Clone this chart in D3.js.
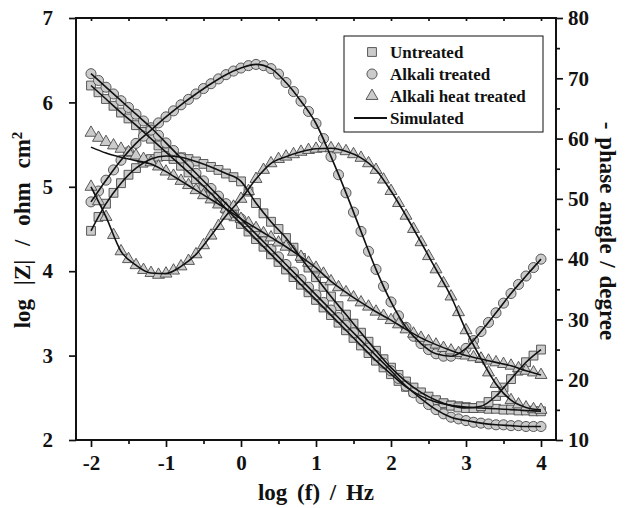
<!DOCTYPE html>
<html><head><meta charset="utf-8">
<script src="https://cdn.jsdelivr.net/npm/d3@7"></script>
<style>
body{margin:0;background:#fff}
text{font-family:"Liberation Serif","Times New Roman",serif;font-weight:bold;fill:#111}
</style>
</head><body><svg id="c" width="630" height="508"></svg>
<script>
// ---------------- data ----------------
const logF = [-2.0,-1.9,-1.8,-1.7,-1.6,-1.5,-1.4,-1.3,-1.2,-1.1,-1.0,-0.9,-0.8,-0.7,-0.6,-0.5,-0.4,-0.3,-0.2,-0.1,
  0.0,0.1,0.2,0.3,0.4,0.5,0.6,0.7,0.8,0.9,1.0,1.1,1.2,1.3,1.4,1.5,1.6,1.7,1.8,1.9,
  2.0,2.1,2.2,2.3,2.4,2.5,2.6,2.7,2.8,2.9,3.0,3.1,3.2,3.3,3.4,3.5,3.6,3.7,3.8,3.9,4.0];

// log|Z| (left axis)
const untreatedZ = [6.20,6.12,6.04,5.96,5.88,5.81,5.73,5.65,5.57,5.49,5.41,5.33,5.25,5.17,5.09,5.00,4.92,4.83,4.74,4.65,
  4.56,4.47,4.38,4.29,4.20,4.11,4.02,3.93,3.84,3.75,3.66,3.57,3.48,3.39,3.30,3.21,3.12,3.03,2.94,2.86,
  2.78,2.70,2.63,2.57,2.52,2.48,2.45,2.43,2.41,2.40,2.39,2.38,2.38,2.37,2.37,2.36,2.36,2.35,2.35,2.34,2.34];
const alkaliZ = [6.34,6.26,6.18,6.10,6.02,5.94,5.86,5.78,5.70,5.61,5.52,5.43,5.34,5.25,5.16,5.07,4.98,4.89,4.80,4.71,
  4.62,4.53,4.44,4.35,4.26,4.17,4.08,3.99,3.90,3.81,3.72,3.63,3.54,3.45,3.36,3.27,3.18,3.09,3.00,2.91,
  2.82,2.73,2.64,2.56,2.49,2.42,2.36,2.31,2.27,2.25,2.23,2.21,2.20,2.19,2.18,2.18,2.17,2.17,2.16,2.16,2.16];
const heatZ = [5.64,5.58,5.53,5.49,5.45,5.41,5.37,5.33,5.29,5.24,5.18,5.13,5.07,5.02,4.96,4.90,4.85,4.79,4.74,4.68,
  4.62,4.57,4.51,4.45,4.40,4.34,4.29,4.23,4.17,4.10,4.04,3.97,3.88,3.81,3.75,3.69,3.63,3.58,3.52,3.47,
  3.42,3.37,3.31,3.26,3.21,3.17,3.13,3.09,3.06,3.03,3.00,2.98,2.96,2.94,2.92,2.90,2.88,2.85,2.82,2.80,2.77];

// -phase angle (right axis)
const untreatedPh = [44.7,47.0,49.2,51.0,52.6,54.0,55.1,56.0,56.6,57.0,57.1,57.1,56.9,56.6,56.2,55.8,55.3,54.8,54.2,53.6,
  52.9,51.2,49.3,47.6,46.2,45.0,43.5,41.9,40.2,38.6,37.0,35.4,33.8,32.2,30.8,29.3,27.8,26.3,24.8,23.4,
  22.0,20.8,19.7,18.7,17.9,17.2,16.6,16.1,15.7,15.4,15.3,15.3,15.6,16.3,17.3,18.7,20.1,21.5,22.9,24.0,25.0];
const alkaliPh = [49.5,51.3,53.1,54.8,56.4,57.8,59.2,60.4,61.4,62.6,63.6,64.6,65.6,66.5,67.4,68.3,69.1,69.9,70.6,71.2,
  71.7,72.1,72.3,72.1,71.6,70.7,69.3,67.8,66.2,64.5,62.5,60.0,57.0,54.0,51.0,47.8,44.6,41.3,38.3,35.5,
  32.9,30.6,28.7,27.2,26.0,25.0,24.3,23.9,23.9,24.3,25.2,26.5,28.0,29.5,31.1,32.7,34.3,35.8,37.2,38.6,40.0];
const heatPh = [52.0,49.6,47.0,44.0,41.3,40.0,39.0,38.2,37.7,37.4,37.6,38.1,38.8,39.7,40.8,42.3,43.9,45.5,47.2,48.7,
  50.0,51.3,53.3,54.8,55.9,56.6,57.0,57.4,57.8,58.1,58.3,58.4,58.4,58.2,57.9,57.4,56.8,55.9,54.8,53.2,
  51.3,49.3,47.2,45.0,42.8,40.5,38.3,36.0,33.8,31.2,28.2,25.8,23.5,21.2,19.3,17.8,16.6,15.9,15.4,15.1,15.0];

// simulated (fitted) curves
const logFSim = [-2.0,-1.8,-1.6,-1.4,-1.2,-1.0,-0.8,-0.6,-0.4,-0.2,0.0,0.2,0.4,0.6,0.8,1.0,1.2,1.4,1.6,1.8,
  2.0,2.2,2.4,2.6,2.8,3.0,3.2,3.4,3.6,3.8,4.0];
const simUntreatedZ = [6.20,6.04,5.88,5.73,5.57,5.41,5.25,5.09,4.92,4.74,4.56,4.38,4.20,4.02,3.84,3.66,3.48,3.30,3.12,2.94,
  2.78,2.63,2.52,2.45,2.41,2.39,2.38,2.37,2.36,2.35,2.34];
const simAlkaliZ = [6.34,6.18,6.02,5.86,5.70,5.52,5.34,5.16,4.98,4.80,4.62,4.44,4.26,4.08,3.90,3.72,3.54,3.36,3.18,3.00,
  2.82,2.64,2.49,2.36,2.27,2.23,2.20,2.18,2.17,2.16,2.16];
const simHeatZ = [5.47,5.40,5.35,5.31,5.27,5.18,5.07,4.96,4.85,4.74,4.62,4.51,4.40,4.29,4.17,4.04,3.88,3.75,3.63,3.52,
  3.42,3.31,3.21,3.13,3.06,3.00,2.96,2.92,2.88,2.82,2.77];
const simUntreatedPh = [44.7,49.2,52.6,55.1,56.6,57.1,56.9,56.2,55.3,54.2,52.9,49.3,46.2,43.5,40.2,37.0,33.8,30.8,27.8,24.8,
  22.0,19.7,17.9,16.6,15.7,15.3,15.6,17.3,20.1,22.9,25.0];
const simAlkaliPh = [49.5,53.1,56.4,59.2,61.4,63.6,65.6,67.4,69.1,70.6,71.7,72.3,71.6,69.3,66.2,62.5,57.0,51.0,44.6,38.3,
  32.9,28.7,26.0,24.3,23.9,25.2,28.0,31.1,34.3,37.2,40.0];
const simHeatPh = [52.0,47.0,41.3,39.0,37.7,37.6,38.8,40.8,43.9,47.2,50.0,53.3,55.9,57.0,57.8,58.3,58.4,57.9,56.8,54.8,
  51.3,47.2,42.8,38.3,33.8,28.2,23.5,19.3,16.6,15.4,15.0];

const xTicks = [-2,-1,0,1,2,3,4];
const xMinor = [-1.5,-0.5,0.5,1.5,2.5,3.5];
const yLeftTicks = [2,3,4,5,6,7];
const yRightTicks = [10,20,30,40,50,60,70,80];
const yRightMinor = [15,25,35,45,55,65,75];
const legendLabels = ["Untreated","Alkali treated","Alkali heat treated","Simulated"];

// ---------------- drawing ----------------
const svg = d3.select("#c");
const L=76, R=556, T=18, B=440;
const x = d3.scaleLinear().domain([-2.2,4.2]).range([L,R]);
const yL = d3.scaleLinear().domain([2,7]).range([B,T]);
const yR = d3.scaleLinear().domain([10,80]).range([B,T]);

const fill="#cbcbcb", stroke="#4a4a4a";
const sym = {
  square: d3.symbol().type(d3.symbolSquare).size(78),
  circle: d3.symbol().type(d3.symbolCircle).size(80),
  triangle: d3.symbol().type(d3.symbolTriangle).size(62)
};

const series = [
  {vals: untreatedZ, y: yL, s: "square"},
  {vals: untreatedPh, y: yR, s: "square"},
  {vals: alkaliZ, y: yL, s: "circle"},
  {vals: alkaliPh, y: yR, s: "circle"},
  {vals: heatZ, y: yL, s: "triangle"},
  {vals: heatPh, y: yR, s: "triangle"}
];
const sims = [
  {vals: simUntreatedZ, y: yL}, {vals: simUntreatedPh, y: yR},
  {vals: simAlkaliZ, y: yL}, {vals: simAlkaliPh, y: yR},
  {vals: simHeatZ, y: yL}, {vals: simHeatPh, y: yR}
];

const gPlot = svg.append("g");
series.forEach(sr => {
  gPlot.append("g").selectAll("path").data(sr.vals).join("path")
    .attr("d", sym[sr.s]())
    .attr("transform", (d,i) => `translate(${x(logF[i])},${sr.y(d)})`)
    .attr("fill", fill).attr("stroke", stroke).attr("stroke-width", 0.9);
});
sims.forEach(sm => {
  const line = d3.line().x((d,i)=>x(logFSim[i])).y(d=>sm.y(d)).curve(d3.curveMonotoneX);
  gPlot.append("path").attr("d", line(sm.vals)).attr("fill","none")
    .attr("stroke","#111").attr("stroke-width",1.6);
});

// axes
const fs = 21;
const fmt = d => String(d);
function styleAxis(g){ g.select(".domain").remove(); g.selectAll("line").attr("stroke","#111").attr("stroke-width",1.7);
  g.selectAll("text").style("font-size", fs+"px").style("font-family",'"Liberation Serif",serif').style("font-weight","bold").attr("fill","#111"); }

svg.append("g").attr("transform",`translate(0,${B})`)
  .call(d3.axisBottom(x).tickValues(xTicks).tickSize(7).tickPadding(8).tickFormat(fmt)).call(styleAxis);
svg.append("g").attr("transform",`translate(0,${B})`)
  .call(d3.axisBottom(x).tickValues(xMinor).tickSize(4).tickFormat("")).call(styleAxis);
svg.append("g").attr("transform",`translate(0,${T})`)
  .call(d3.axisBottom(x).tickValues(xTicks.concat(xMinor)).tickSize(3).tickFormat("")).call(styleAxis);
svg.append("g").attr("transform",`translate(${L},0)`)
  .call(d3.axisLeft(yL).tickValues(yLeftTicks).tickSize(7).tickPadding(16).tickFormat(fmt)).call(styleAxis);
svg.append("g").attr("transform",`translate(${R},0)`)
  .call(d3.axisRight(yR).tickValues(yRightTicks).tickSize(7).tickPadding(5).tickFormat(fmt)).call(styleAxis);
svg.append("g").attr("transform",`translate(${R},0)`)
  .call(d3.axisRight(yR).tickValues(yRightMinor).tickSize(4).tickFormat("")).call(styleAxis);

// frame
svg.append("rect").attr("x",L).attr("y",T).attr("width",R-L).attr("height",B-T)
  .attr("fill","none").attr("stroke","#111").attr("stroke-width",2);

// axis titles
svg.append("text").attr("x",316).attr("y",500).attr("text-anchor","middle").style("font-size","23px")
  .style("word-spacing","4px").text("log (f) / Hz");
const lt = svg.append("text").attr("transform",`translate(30,230) rotate(-90)`).attr("text-anchor","middle")
  .style("font-size","23px").style("word-spacing","8px");
lt.append("tspan").text("log |Z| / ohm cm");
lt.append("tspan").attr("dy",-8).style("font-size","15px").text("2");
svg.append("text").attr("transform",`translate(600,231) rotate(90)`).attr("text-anchor","middle").style("font-size","23px")
  .style("word-spacing","2px").text("- phase angle / degree");

// legend
const lg = svg.append("g");
lg.append("rect").attr("x",344).attr("y",36).attr("width",199).attr("height",96)
  .attr("fill","#fff").attr("stroke","#111").attr("stroke-width",1);
const lgSyms = ["square","circle","triangle"];
legendLabels.forEach((lab,i) => {
  const cy = 52 + i*22;
  if (i < 3) {
    lg.append("path").attr("d", sym[lgSyms[i]]()).attr("transform",`translate(372,${cy})`)
      .attr("fill",fill).attr("stroke",stroke).attr("stroke-width",0.9);
  } else {
    lg.append("line").attr("x1",354).attr("x2",387).attr("y1",cy).attr("y2",cy).attr("stroke","#111").attr("stroke-width",1.8);
  }
  lg.append("text").attr("x",390).attr("y",cy+6).style("font-size","17px").text(lab);
});
</script>
</body></html>
